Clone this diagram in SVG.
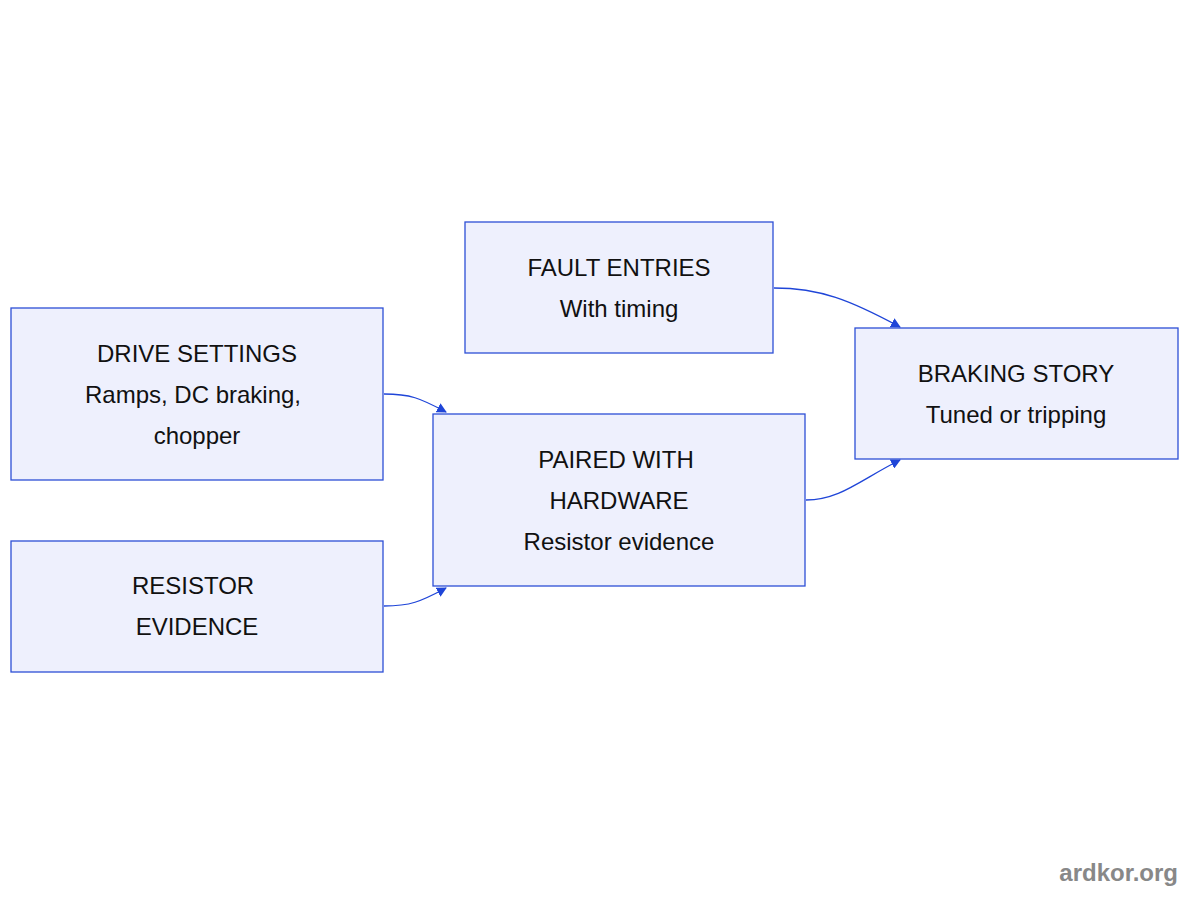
<svg xmlns="http://www.w3.org/2000/svg" width="1200" height="900" viewBox="0 0 1200 900">
<style>
.n{fill:#eef0fd;stroke:#2d4fd6;stroke-width:1.3}
.t{font-family:"Helvetica","Liberation Sans",Arial,sans-serif;font-size:24px;fill:#111;text-anchor:middle}
.e{fill:none;stroke:#1f45d8;stroke-width:1.3}
</style>
<defs><marker id="a" viewBox="0 0 10 10" refX="9" refY="5" markerWidth="10" markerHeight="10" markerUnits="userSpaceOnUse" orient="auto"><path d="M0,0L10,5L0,10z" fill="#1f45d8"/></marker></defs>
<rect width="1200" height="900" fill="#fff"/>
<g id="edges">
<path class="e" d="M384,394C410,394 420,398 446,412" marker-end="url(#a)"/>
<path class="e" d="M384,606C410,606 420,602 446,588" marker-end="url(#a)"/>
<path class="e" d="M774,288C820,288 850,300 900,327" marker-end="url(#a)"/>
<path class="e" d="M806,500C840,500 860,480 900,460" marker-end="url(#a)"/>
</g>
<g id="fault"><rect class="n" x="465" y="222" width="308" height="131"/><text class="t" x="619" y="276">FAULT ENTRIES</text><text class="t" x="619" y="317">With timing</text></g>
<g id="drive"><rect class="n" x="11" y="308" width="372" height="172"/><text class="t" x="197" y="362">DRIVE SETTINGS</text><text class="t" x="193" y="403">Ramps, DC braking,</text><text class="t" x="197" y="444">chopper</text></g>
<g id="resistor"><rect class="n" x="11" y="541" width="372" height="131"/><text class="t" x="193" y="594">RESISTOR</text><text class="t" x="197" y="635">EVIDENCE</text></g>
<g id="paired"><rect class="n" x="433" y="414" width="372" height="172"/><text class="t" x="616" y="468">PAIRED WITH</text><text class="t" x="619" y="509">HARDWARE</text><text class="t" x="619" y="550">Resistor evidence</text></g>
<g id="story"><rect class="n" x="855" y="328" width="323" height="131"/><text class="t" x="1016" y="382">BRAKING STORY</text><text class="t" x="1016" y="423">Tuned or tripping</text></g>
<text x="1178" y="881" style="font-family:'Liberation Sans',Arial,sans-serif;font-size:24px;font-weight:bold;fill:#888;text-anchor:end">ardkor.org</text>
</svg>
